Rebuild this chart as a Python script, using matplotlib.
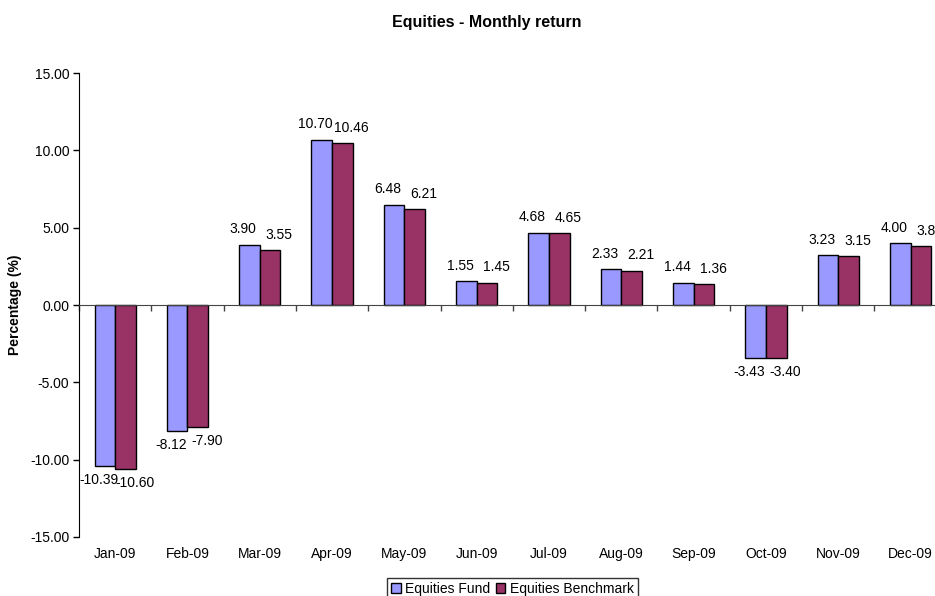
import numpy as np
import matplotlib
matplotlib.use("Agg")
import matplotlib.pyplot as plt
import matplotlib.transforms as mtransforms

plt.rcParams['font.family'] = ['Liberation Sans', 'DejaVu Sans']

months = ["Jan-09", "Feb-09", "Mar-09", "Apr-09", "May-09", "Jun-09",
          "Jul-09", "Aug-09", "Sep-09", "Oct-09", "Nov-09", "Dec-09"]
fund = [-10.39, -8.12, 3.90, 10.70, 6.48, 1.55, 4.68, 2.33, 1.44, -3.43, 3.23, 4.00]
bench = [-10.60, -7.90, 3.55, 10.46, 6.21, 1.45, 4.65, 2.21, 1.36, -3.40, 3.15, 3.82]

fig = plt.figure(figsize=(9.35, 5.96), dpi=100)
ax = fig.add_axes([0.0845, 0.099, 0.928, 0.7785])

x = np.arange(len(months))
w = 1 / 3.5
b1 = ax.bar(x - w / 2, fund, w, color="#9999FF", edgecolor="black", linewidth=1, label="Equities Fund")
b2 = ax.bar(x + w / 2, bench, w, color="#993366", edgecolor="black", linewidth=1, label="Equities Benchmark")

# data labels, nudged apart like excel does
for bars, dx in ((b1, -4.5), (b2, 6.5)):
    for r in bars:
        v = r.get_height()
        cx = r.get_x() + r.get_width() / 2
        if v >= 0:
            ax.annotate(f"{v:.2f}", (cx, v), xytext=(dx, 6), textcoords="offset points",
                        ha="center", va="bottom", fontsize=10)
        else:
            ax.annotate(f"{v:.2f}", (cx, v), xytext=(dx, -5), textcoords="offset points",
                        ha="center", va="top", fontsize=10)

ax.set_xlim(-0.5, len(months) - 0.5)
ax.set_ylim(-15, 15)
ax.set_yticks(np.arange(-15, 16, 5))
ax.set_yticklabels([f"{t:.2f}" for t in np.arange(-15, 16, 5)], fontsize=10)
ax.tick_params(axis="y", direction="out", length=4, width=1, pad=3)

# category axis crosses at zero, labels at bottom
ax.spines["bottom"].set_position(("data", 0))
ax.spines["top"].set_visible(False)
ax.spines["right"].set_visible(False)
ax.set_xticks(np.arange(-0.5, len(months), 1))
ax.set_xticklabels([])
ax.tick_params(axis="x", direction="out", length=4, width=1, color="#444444")
ax.spines["bottom"].set_color("#444444")
trans = mtransforms.blended_transform_factory(ax.transData, ax.transAxes)
for i, m in enumerate(months):
    ax.text(i, -0.037, m, transform=trans, ha="center", va="center", fontsize=10)

ax.set_ylabel("Percentage (%)", fontsize=10, fontweight="bold", va="center")
ax.yaxis.set_label_coords(-0.074, 0.5)
fig.text(0.521, 0.962, "Equities - Monthly return", ha="center", va="center",
         fontsize=11.5, fontweight="bold")

leg = fig.legend(loc="center", bbox_to_anchor=(0.548, 0.012), ncol=2, fontsize=10,
                 frameon=True, fancybox=False, edgecolor="black", handlelength=0.7,
                 handleheight=0.7, handletextpad=0.3, columnspacing=0.4,
                 borderpad=0.3)
leg.get_frame().set_linewidth(1)

fig.savefig("out.png", dpi=100)
